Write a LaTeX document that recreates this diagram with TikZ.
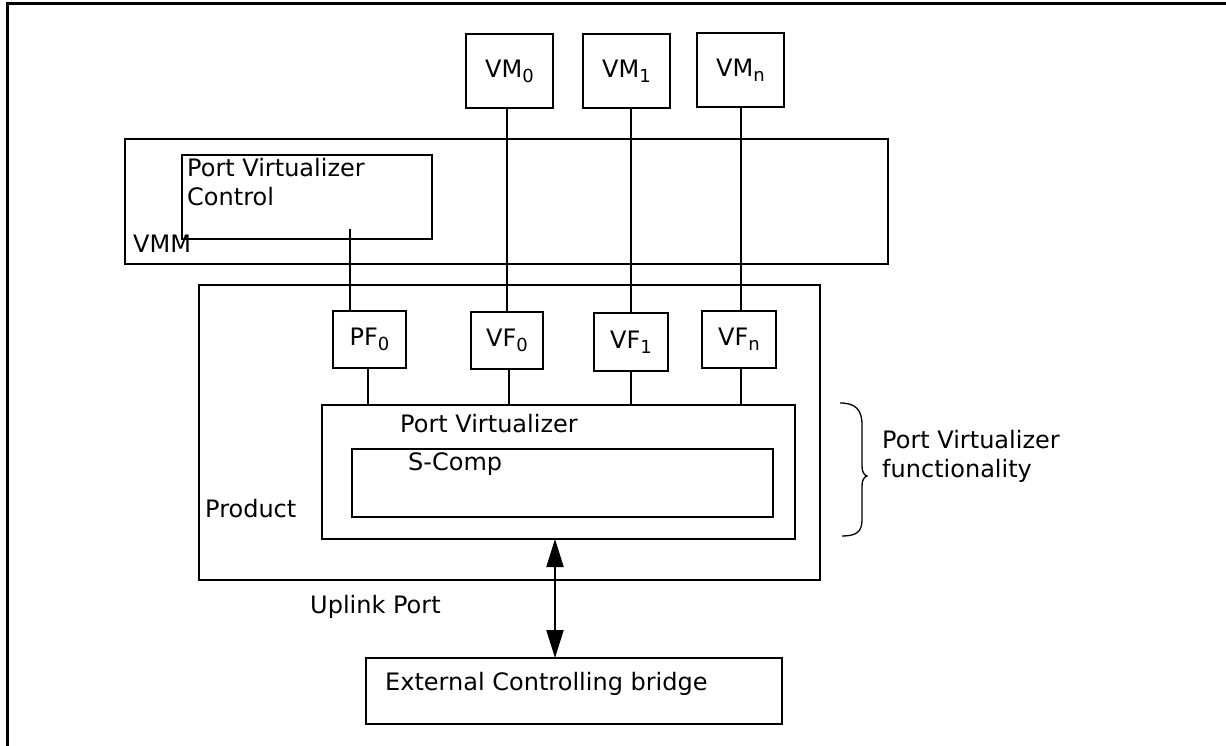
\documentclass[tikz,border=0pt]{standalone}
\usepackage{fontspec}
\setmainfont{DejaVu Sans}
\usetikzlibrary{arrows.meta}
\newcommand{\sbs}[1]{\raisebox{-5pt}{\fontsize{18}{18}\selectfont #1}}
\begin{document}
\begin{tikzpicture}[x=1pt,y=-1pt,
  box/.style={draw,line width=2pt,inner sep=0pt,outer sep=0pt,font=\fontsize{24}{29}\selectfont},
  conn/.style={line width=2pt},
  lbl/.style={anchor=base west,inner sep=0pt,font=\fontsize{24}{29}\selectfont,align=left},
  frame/.style={line width=3pt},
  bracepath/.style={line width=1.3pt},
  ]
\useasboundingbox (0,0) rectangle (1226,746);
% outer frame (top and left edges)
\draw[frame] (7,746) -- (7,4) -- (1226,4);

% VMs
\node[box,minimum width=87pt,minimum height=74pt] (VM0) at (509.5,71) {VM\sbs{0}};
\node[box,minimum width=87pt,minimum height=74pt] (VM1) at (626.5,71) {VM\sbs{1}};
\node[box,minimum width=87pt,minimum height=74pt] (VMn) at (740.5,70) {VM\sbs{n}};

% VMM and control
\node[box,minimum width=763pt,minimum height=125pt] (VMM) at (506.5,201.5) {};
\node[box,fill=white,minimum width=250pt,minimum height=84pt] (PVC) at (307,197) {};
\node[lbl] (pvclbl) at (187,206) {Port Virtualizer\\Control};
\node[lbl] (vmmlbl) at (133,252) {VMM};
\coordinate (pvcport) at (350,229);

% Product
\node[box,minimum width=621pt,minimum height=295pt] (Prod) at (509.5,432.5) {};
\node[lbl] (prodlbl) at (205,517) {Product};

\node[box,minimum width=73pt,minimum height=57pt] (PF0) at (369.5,339.5) {PF\sbs{0}};
\node[box,minimum width=72pt,minimum height=57pt] (VF0) at (507,340.5) {VF\sbs{0}};
\node[box,minimum width=74pt,minimum height=58pt] (VF1) at (631,342) {VF\sbs{1}};
\node[box,minimum width=74pt,minimum height=57pt] (VFn) at (739,339.5) {VF\sbs{n}};

\node[box,minimum width=473pt,minimum height=134pt] (PV) at (558.5,472) {};
\node[lbl] (pvlbl) at (400,432) {Port Virtualizer};
\node[box,minimum width=421pt,minimum height=68pt] (SC) at (562.5,483) {};
\node[lbl] (sclbl) at (408,470) {S-Comp};

% External bridge
\node[box,minimum width=416pt,minimum height=66pt] (ECB) at (574,691) {};
\node[lbl] (ecblbl) at (385,690) {External Controlling bridge};
\node[lbl] (uplbl) at (310,613) {Uplink Port};

% connectors VM -> VF
\draw[conn] (VM0.south -| VF0.north) -- (VF0.north);
\draw[conn] (VM1.south -| VF1.north) -- (VF1.north);
\draw[conn] (VMn.south) -- (VMn.south |- VFn.north);
\draw[conn] (pvcport) -- (pvcport |- PF0.north);

% connectors PF/VF -> PV
\draw[conn] ([xshift=-1.5pt]PF0.south) -- ([xshift=-1.5pt]PF0.south |- PV.north);
\draw[conn] ([xshift=2pt]VF0.south) -- ([xshift=2pt]VF0.south |- PV.north);
\draw[conn] (VF1.south) -- (VF1.south |- PV.north);
\draw[conn] ([xshift=2pt]VFn.south) -- ([xshift=2pt]VFn.south |- PV.north);

% uplink arrow
\coordinate (ax) at (555,0);
\draw[conn,{Triangle[length=28pt,width=17pt]}-{Triangle[length=28pt,width=17pt]}]
  (PV.south -| ax) -- (ECB.north -| ax);

% brace
\draw[bracepath] (840,403) .. controls (856,403) and (862,410) .. (862,425)
  -- (862,466) .. controls (862,472) and (864,475) .. (867,476)
  .. controls (864,477) and (862,480) .. (862,486)
  -- (862,520) .. controls (862,532) and (856,536) .. (842,536);
\node[lbl] (pvflbl) at (882,477) {Port Virtualizer\\functionality};
\end{tikzpicture}
\end{document}
